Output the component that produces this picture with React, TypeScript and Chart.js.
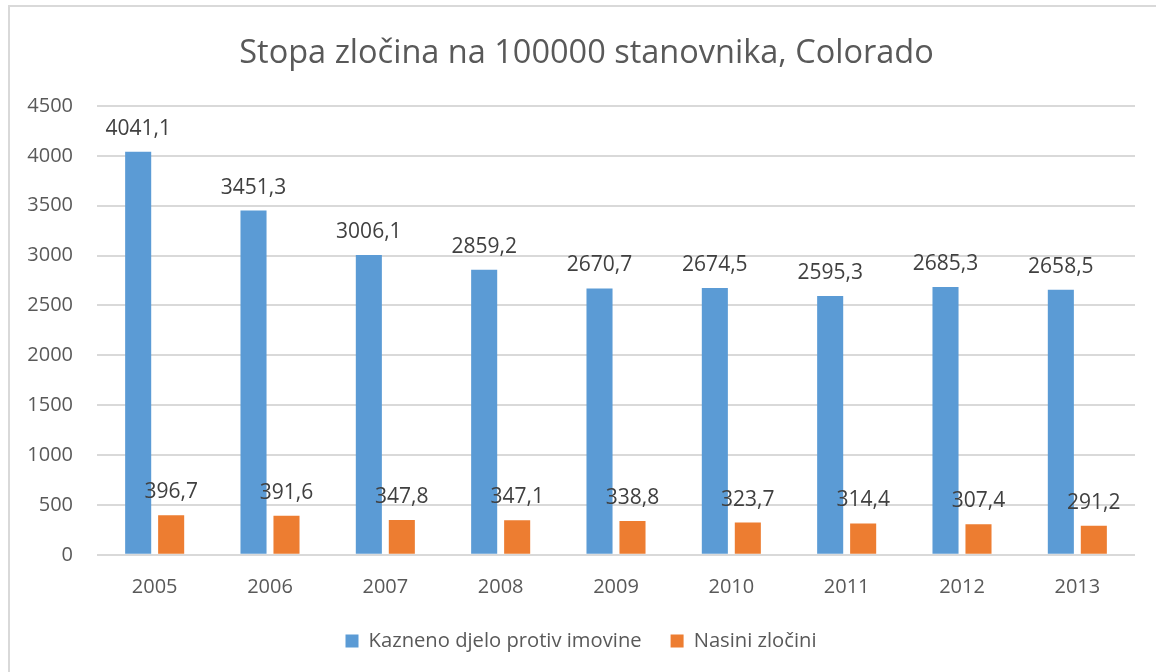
import React, { useEffect, useRef } from "react";
import { Chart, registerables } from "chart.js";

Chart.register(...registerables);

const TITLE = "Stopa zločina na 100000 stanovnika, Colorado";
const YEARS = ["2005", "2006", "2007", "2008", "2009", "2010", "2011", "2012", "2013"];
const PROPERTY_LABEL = "Kazneno djelo protiv imovine";
const VIOLENT_LABEL = "Nasini zločini";
const PROPERTY = [4041.1, 3451.3, 3006.1, 2859.2, 2670.7, 2674.5, 2595.3, 2685.3, 2658.5];
const VIOLENT = [396.7, 391.6, 347.8, 347.1, 338.8, 323.7, 314.4, 307.4, 291.2];
const Y_MIN = 0;
const Y_MAX = 4500;
const Y_STEP = 500;

const FONT = "'Open Sans', 'Noto Sans', sans-serif";

const titlePlugin = {
  id: "customTitle",
  afterDraw(chart: any) {
    const ctx = chart.ctx;
    ctx.save();
    ctx.font = `32.5px ${FONT}`;
    ctx.fillStyle = "#595959";
    ctx.textAlign = "center";
    ctx.textBaseline = "alphabetic";
    ctx.fillText(TITLE, chart.width / 2 + 7, 54.5);
    ctx.restore();
  },
};

const valueLabels = {
  id: "valueLabels",
  afterDatasetsDraw(chart: any) {
    const ctx = chart.ctx;
    ctx.save();
    ctx.font = `21px ${FONT}`;
    ctx.fillStyle = "#404040";
    ctx.textAlign = "center";
    ctx.textBaseline = "alphabetic";
    chart.data.datasets.forEach((ds: any, di: number) => {
      const meta = chart.getDatasetMeta(di);
      meta.data.forEach((bar: any, i: number) => {
        const v = ds.data[i] as number;
        const txt = v.toFixed(1).replace(".", ",");
        ctx.fillText(txt, bar.x, bar.y - 17);
      });
    });
    ctx.restore();
  },
};

export default function App() {
  const ref = useRef<HTMLCanvasElement | null>(null);

  useEffect(() => {
    if (!ref.current) return;
    const chart = new Chart(ref.current, {
      type: "bar",
      data: {
        labels: YEARS,
        datasets: [
          { label: PROPERTY_LABEL, data: PROPERTY, backgroundColor: "#5B9BD5" },
          { label: VIOLENT_LABEL, data: VIOLENT, backgroundColor: "#ED7D31" },
        ],
      },
      plugins: [valueLabels, titlePlugin],
      options: {
        animation: false,
        responsive: false,
        maintainAspectRatio: false,
        layout: { padding: { left: 17, right: 14, top: 98, bottom: 11 } },
        datasets: {
          bar: { categoryPercentage: 0.572, barPercentage: 0.79 },
        },
        plugins: {
          title: { display: false },
          legend: {
            display: true,
            position: "bottom",
            labels: {
              color: "#595959",
              font: { family: FONT, size: 20.2 },
              boxWidth: 13,
              boxHeight: 13,
              padding: 29,
            },
          },
          tooltip: { enabled: false },
        },
        scales: {
          x: {
            afterFit: (s: any) => {
              s.height = 47;
            },
            grid: { display: false, drawTicks: false },
            border: { display: false },
            ticks: { color: "#595959", font: { family: FONT, size: 20 }, padding: 20 },
          },
          y: {
            min: Y_MIN,
            max: Y_MAX,
            afterFit: (s: any) => {
              s.width = 70;
            },
            grid: { color: "#D9D9D9", lineWidth: 2, drawTicks: false },
            border: { display: false },
            ticks: {
              stepSize: Y_STEP,
              color: "#595959",
              font: { family: FONT, size: 20 },
              padding: 24,
              callback: (v: any) => String(v),
            },
          },
        },
      },
    });
    return () => chart.destroy();
  }, []);

  return (
    <div
      style={{
        position: "absolute",
        left: 8,
        top: 5,
        width: 1146,
        height: 665,
        borderTop: "2px solid #D9D9D9",
        borderLeft: "2px solid #D9D9D9",
        background: "#fff",
        overflow: "hidden",
      }}
    >
      <canvas
        ref={ref}
        width={1139}
        height={664}
        style={{ display: "block", marginTop: 1 }}
      />
    </div>
  );
}
